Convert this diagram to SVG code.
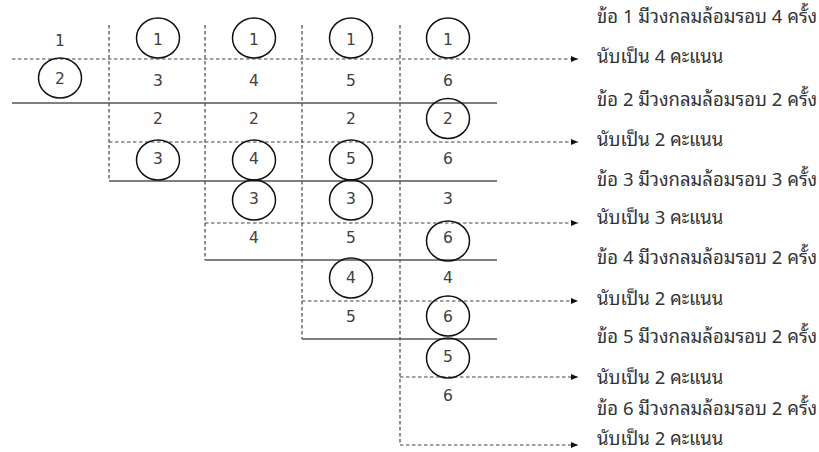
<svg xmlns="http://www.w3.org/2000/svg" width="819" height="452" viewBox="0 0 819 452">
<style>
.n{font-family:"DejaVu Sans","Liberation Sans",sans-serif;font-size:15.5px;fill:#404040;text-anchor:middle}
.t{font-family:"Noto Sans Thai Looped","Noto Sans Thai","Noto Sans","DejaVu Sans",sans-serif;font-size:18.5px;fill:#333}
.c{fill:none;stroke:#111;stroke-width:1.5}
.d{fill:none;stroke:#444;stroke-width:1.2;stroke-dasharray:3.5 2.5}
.s{fill:none;stroke:#555;stroke-width:1.5}
</style>
<defs>
<marker id="ah" markerUnits="userSpaceOnUse" markerWidth="8" markerHeight="7" refX="7" refY="3" orient="auto">
<path d="M0,0 L7,3 L0,6 z" fill="#111"/>
</marker>
</defs>
<g id="connectors">
<line class="d" x1="109" y1="25" x2="109" y2="181"/>
<line class="d" x1="205" y1="25" x2="205" y2="260"/>
<line class="d" x1="302" y1="25" x2="302" y2="339"/>
<line class="d" x1="400" y1="25" x2="400" y2="445"/>
<line class="d" x1="12" y1="59" x2="578" y2="59" marker-end="url(#ah)"/>
<line class="d" x1="109" y1="142" x2="578" y2="142" marker-end="url(#ah)"/>
<line class="d" x1="205" y1="223" x2="578" y2="223" marker-end="url(#ah)"/>
<line class="d" x1="302" y1="301" x2="578" y2="301" marker-end="url(#ah)"/>
<line class="d" x1="400" y1="377" x2="578" y2="377" marker-end="url(#ah)"/>
<line class="d" x1="400" y1="445" x2="578" y2="445" marker-end="url(#ah)"/>
<line class="s" x1="12" y1="103" x2="497" y2="103"/>
<line class="s" x1="109" y1="181" x2="497" y2="181"/>
<line class="s" x1="205" y1="260" x2="497" y2="260"/>
<line class="s" x1="302" y1="339" x2="497" y2="339"/>
</g>
<g id="col0">
<g id="r0c0"><text class="n" x="60" y="46">1</text></g>
<g id="r1c0"><ellipse class="c" cx="60" cy="78" rx="21.5" ry="20"/><text class="n" x="60" y="84">2</text></g>
</g>
<g id="col1">
<g id="r0c1"><ellipse class="c" cx="158" cy="38" rx="21.5" ry="20"/><text class="n" x="158" y="45">1</text></g>
<g id="r1c1"><text class="n" x="158" y="86">3</text></g>
<g id="r2c1"><text class="n" x="158" y="124">2</text></g>
<g id="r3c1"><ellipse class="c" cx="158" cy="160" rx="21.5" ry="20"/><text class="n" x="158" y="164">3</text></g>
</g>
<g id="col2">
<g id="r0c2"><ellipse class="c" cx="254" cy="38" rx="21.5" ry="20"/><text class="n" x="254" y="45">1</text></g>
<g id="r1c2"><text class="n" x="254" y="86">4</text></g>
<g id="r2c2"><text class="n" x="254" y="124">2</text></g>
<g id="r3c2"><ellipse class="c" cx="254" cy="160" rx="21.5" ry="20"/><text class="n" x="254" y="164">4</text></g>
<g id="r4c2"><ellipse class="c" cx="254" cy="200" rx="21.5" ry="20"/><text class="n" x="254" y="204">3</text></g>
<g id="r5c2"><text class="n" x="254" y="243">4</text></g>
</g>
<g id="col3">
<g id="r0c3"><ellipse class="c" cx="351" cy="38" rx="21.5" ry="20"/><text class="n" x="351" y="45">1</text></g>
<g id="r1c3"><text class="n" x="351" y="86">5</text></g>
<g id="r2c3"><text class="n" x="351" y="124">2</text></g>
<g id="r3c3"><ellipse class="c" cx="351" cy="160" rx="21.5" ry="20"/><text class="n" x="351" y="164">5</text></g>
<g id="r4c3"><ellipse class="c" cx="351" cy="200" rx="21.5" ry="20"/><text class="n" x="351" y="204">3</text></g>
<g id="r5c3"><text class="n" x="351" y="243">5</text></g>
<g id="r6c3"><ellipse class="c" cx="351" cy="278" rx="21.5" ry="20"/><text class="n" x="351" y="283">4</text></g>
<g id="r7c3"><text class="n" x="351" y="322">5</text></g>
</g>
<g id="col4">
<g id="r0c4"><ellipse class="c" cx="448" cy="38" rx="21.5" ry="20"/><text class="n" x="448" y="45">1</text></g>
<g id="r1c4"><text class="n" x="448" y="86">6</text></g>
<g id="r2c4"><ellipse class="c" cx="448" cy="118.5" rx="21.5" ry="20"/><text class="n" x="448" y="124">2</text></g>
<g id="r3c4"><text class="n" x="448" y="164">6</text></g>
<g id="r4c4"><text class="n" x="448" y="204">3</text></g>
<g id="r5c4"><ellipse class="c" cx="448" cy="241" rx="21.5" ry="20"/><text class="n" x="448" y="243">6</text></g>
<g id="r6c4"><text class="n" x="448" y="283">4</text></g>
<g id="r7c4"><ellipse class="c" cx="448" cy="316" rx="21.5" ry="20"/><text class="n" x="448" y="322">6</text></g>
<g id="r8c4"><ellipse class="c" cx="448" cy="358" rx="21.5" ry="20"/><text class="n" x="448" y="362">5</text></g>
<g id="r9c4"><text class="n" x="448" y="401">6</text></g>
</g>
<g id="labels">
<g id="l1"><text class="t" x="597" y="23">ข้อ 1 มีวงกลมล้อมรอบ 4 ครั้ง</text><text class="t" x="597" y="63">นับเป็น 4 คะแนน</text></g>
<g id="l2"><text class="t" x="597" y="106">ข้อ 2 มีวงกลมล้อมรอบ 2 ครั้ง</text><text class="t" x="597" y="146">นับเป็น 2 คะแนน</text></g>
<g id="l3"><text class="t" x="597" y="186">ข้อ 3 มีวงกลมล้อมรอบ 3 ครั้ง</text><text class="t" x="597" y="224">นับเป็น 3 คะแนน</text></g>
<g id="l4"><text class="t" x="597" y="264">ข้อ 4 มีวงกลมล้อมรอบ 2 ครั้ง</text><text class="t" x="597" y="305">นับเป็น 2 คะแนน</text></g>
<g id="l5"><text class="t" x="597" y="343">ข้อ 5 มีวงกลมล้อมรอบ 2 ครั้ง</text><text class="t" x="597" y="384">นับเป็น 2 คะแนน</text></g>
<g id="l6"><text class="t" x="597" y="415">ข้อ 6 มีวงกลมล้อมรอบ 2 ครั้ง</text><text class="t" x="597" y="445">นับเป็น 2 คะแนน</text></g>
</g>
</svg>
